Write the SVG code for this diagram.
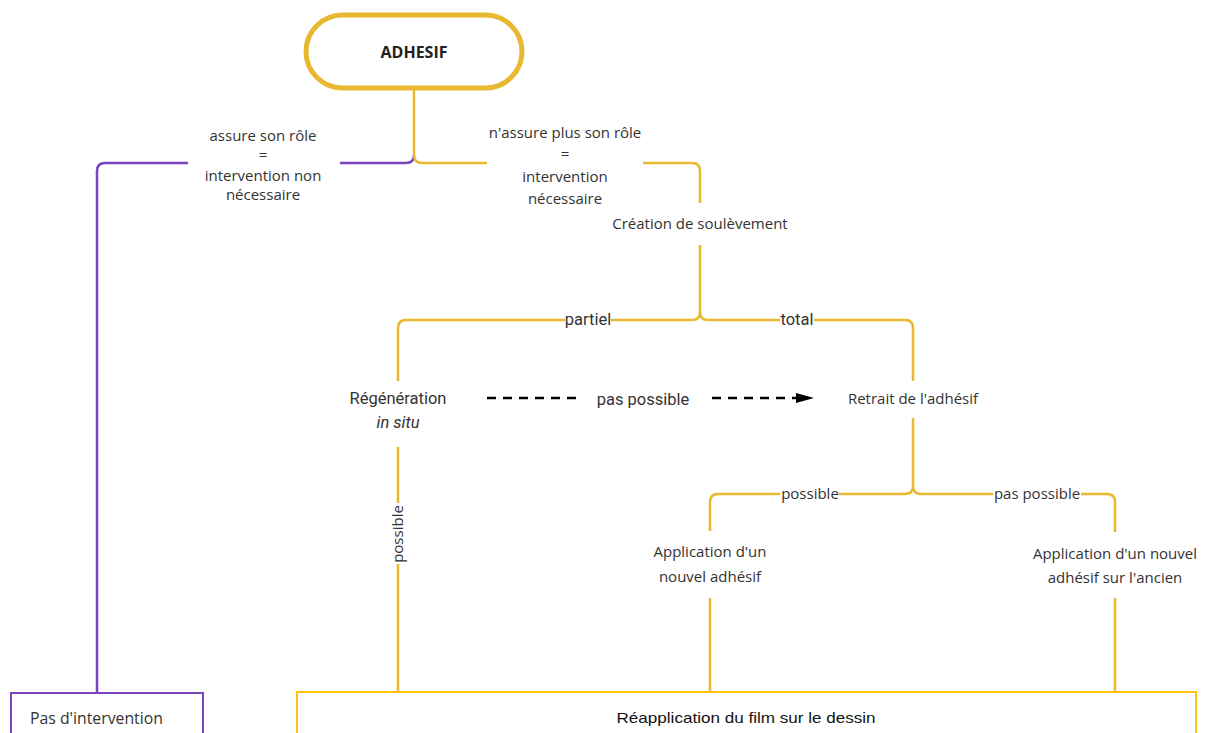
<svg xmlns="http://www.w3.org/2000/svg" width="1205" height="733" viewBox="0 0 1205 733">
<style>
.y{fill:none;stroke:#E8B830;stroke-width:2.5;stroke-linecap:butt}
.p{fill:none;stroke:#7B45BF;stroke-width:2.5}
.t{font-family:"Open Sans","DejaVu Sans",sans-serif;font-size:15px;fill:#333;text-anchor:middle}
.r{font-family:Roboto,"Liberation Sans",sans-serif;font-size:16.5px;fill:#333;text-anchor:middle}
</style>
<rect width="1205" height="733" fill="#fff"/>
<g id="connectors">
<path class="y" d="M414,88 L414,155"/>
<path class="p" d="M414,155 Q414,163 406,163 L340,163"/>
<path class="y" d="M414,155 Q414,163 422,163 L487,163"/>
<path class="y" d="M643,163 L692,163 Q700,163 700,171 L700,203"/>
<path class="p" d="M188,163 L105,163 Q97,163 97,171 L97,693"/>
<path class="y" d="M700,245 L700,312 Q700,320 692,320 L611,320"/>
<path class="y" d="M565,320 L406,320 Q398,320 398,328 L398,381"/>
<path class="y" d="M700,312 Q700,320 708,320 L780,320"/>
<path class="y" d="M814,320 L905,320 Q913,320 913,328 L913,381"/>
<path d="M487,398 L581,398" stroke="#000" stroke-width="2.5" stroke-dasharray="9 7" fill="none"/>
<path d="M712,398 L796,398" stroke="#000" stroke-width="2.5" stroke-dasharray="9 7" fill="none"/>
<path d="M796,393 L814,398 L796,403 Z" fill="#000"/>
<path class="y" d="M913,418 L913,486 Q913,494 905,494 L839,494"/>
<path class="y" d="M780,494 L718,494 Q710,494 710,502 L710,531"/>
<path class="y" d="M913,486 Q913,494 921,494 L993,494"/>
<path class="y" d="M1081,494 L1107,494 Q1115,494 1115,502 L1115,532"/>
<path class="y" d="M398,447 L398,503"/>
<path class="y" d="M398,564 L398,692"/>
<path class="y" d="M710,598 L710,692"/>
<path class="y" d="M1115,598 L1115,692"/>
</g>
<g id="n-adhesif">
<rect x="306" y="15" width="216" height="73" rx="36.5" fill="#fff" stroke="#E8B830" stroke-width="5"/>
<text x="414" y="58" font-family="'Open Sans','DejaVu Sans',sans-serif" font-size="16" font-weight="bold" fill="#222" text-anchor="middle">ADHESIF</text>
</g>
<g id="l-assure">
<text class="t" x="263" y="141" font-size="14">assure son rôle</text>
<text class="t" x="263" y="160" font-size="14">=</text>
<text class="t" x="263" y="181" font-size="14">intervention non</text>
<text class="t" x="263" y="200" font-size="14">nécessaire</text>
</g>
<g id="l-nassure">
<text class="t" x="565" y="138">n'assure plus son rôle</text>
<text class="t" x="565" y="159">=</text>
<text class="t" x="565" y="182">intervention</text>
<text class="t" x="565" y="204">nécessaire</text>
</g>
<g id="n-creation">
<text class="t" x="700" y="229" font-size="16.5">Création de soulèvement</text>
</g>
<g id="l-partiel"><text class="r" x="588" y="325" font-size="14.3">partiel</text></g>
<g id="l-total"><text class="r" x="797" y="325" font-size="14.5">total</text></g>
<g id="n-regeneration">
<text class="r" x="398" y="404">Régénération</text>
<text class="r" x="398" y="428" font-style="italic">in situ</text>
</g>
<g id="l-paspossible1"><text class="r" x="643" y="405" font-size="19">pas possible</text></g>
<g id="n-retrait">
<text class="t" x="913" y="404" font-size="17">Retrait de l'adhésif</text>
</g>
<g id="l-possible-v">
<text class="t" x="0" y="0" transform="translate(403,534) rotate(-90)">possible</text>
</g>
<g id="l-possible2"><text class="t" x="810" y="499">possible</text></g>
<g id="l-paspossible2"><text class="t" x="1037" y="499">pas possible</text></g>
<g id="n-app1">
<text class="t" x="710" y="557" font-size="17">Application d'un</text>
<text class="t" x="710" y="582" font-size="17">nouvel adhésif</text>
</g>
<g id="n-app2">
<text class="t" x="1115" y="559" font-size="17">Application d'un nouvel</text>
<text class="t" x="1115" y="583" font-size="17">adhésif sur l'ancien</text>
</g>
<g id="n-pas-intervention">
<rect x="11" y="693" width="192" height="50" fill="#fff" stroke="#7B45BF" stroke-width="2"/>
<text x="30" y="724" font-family="'Open Sans','DejaVu Sans',sans-serif" font-size="15.8" fill="#333">Pas d'intervention</text>
</g>
<g id="n-reapplication">
<rect x="297" y="692" width="899" height="50" fill="#fff" stroke="#FFC20E" stroke-width="2"/>
<text x="746" y="723" font-family="'Liberation Sans',Arial,sans-serif" font-size="15" fill="#111" text-anchor="middle" textLength="259" lengthAdjust="spacingAndGlyphs">Réapplication du film sur le dessin</text>
</g>
</svg>
